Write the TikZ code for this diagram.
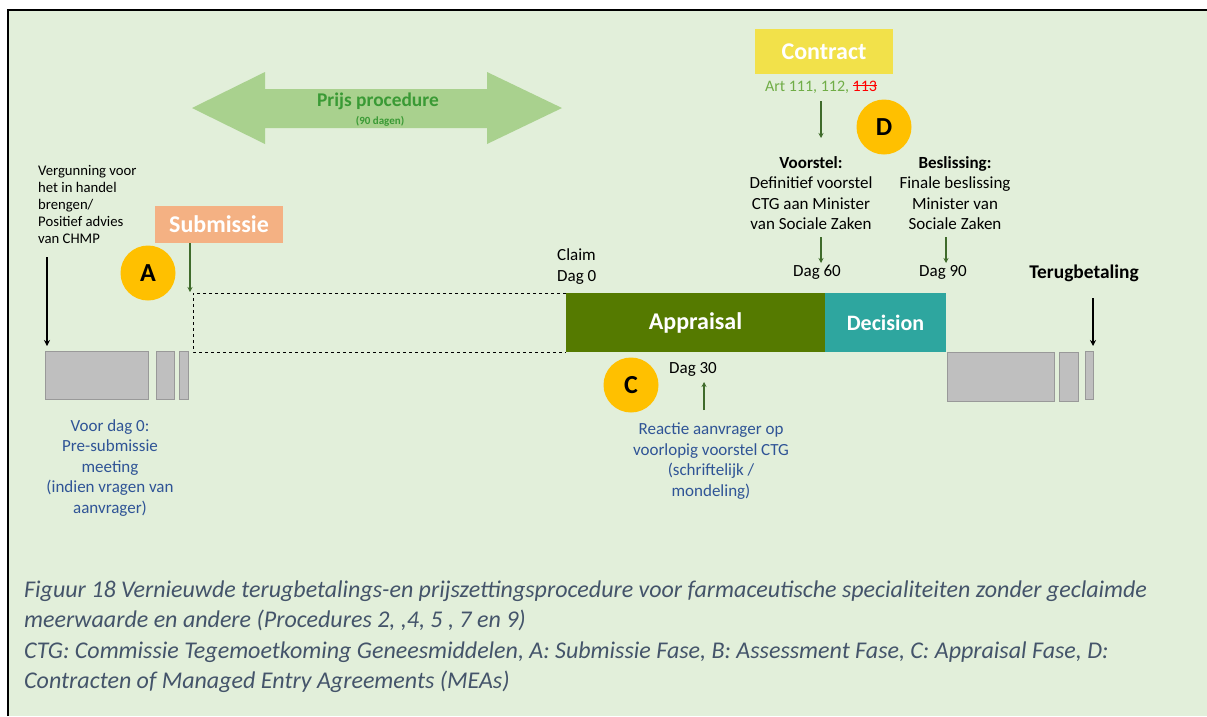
\documentclass[tikz,border=0pt]{standalone}
\usepackage{fontspec}
\setmainfont{Carlito}
\usetikzlibrary{arrows.meta,calc}
\definecolor{bg}{HTML}{E2EFDA}
\definecolor{pricegreen}{HTML}{A9D18E}
\definecolor{pricetext}{HTML}{3A9A35}
\definecolor{darkgreen}{HTML}{3F6B2B}
\definecolor{appraisal}{HTML}{557A00}
\definecolor{decision}{HTML}{2EA69F}
\definecolor{submissie}{HTML}{F4B183}
\definecolor{contract}{HTML}{F2E14A}
\definecolor{badge}{HTML}{FFC000}
\definecolor{bluetext}{HTML}{2F5496}
\definecolor{artgreen}{HTML}{70AD47}
\definecolor{caption}{HTML}{44546A}
\definecolor{boxgray}{HTML}{BFBFBF}
\definecolor{boxedge}{HTML}{999999}
% red struck-through text
\newcommand\redstrike[1]{\setbox0\hbox{#1}{\color{red}\rlap{\raisebox{0.3em}{\rule{\wd0}{0.9pt}}}\box0}}
\begin{document}
\begin{tikzpicture}[x=1pt,y=-1pt,
  body/.style={inner sep=0pt,font=\fontsize{17}{20.5}\selectfont,align=center},
  small/.style={inner sep=0pt,font=\fontsize{14.7}{17}\selectfont,align=left},
  bluenote/.style={body,text=bluetext},
  phase/.style={inner sep=0pt,text=white,font=\fontsize{24}{26}\selectfont\bfseries},
  badgecircle/.style={circle,fill=badge,minimum size=55pt,inner sep=0pt,font=\fontsize{26}{28}\selectfont\bfseries},
  grayblock/.style={fill=boxgray,draw=boxedge,line width=0.8pt},
  greenarrow/.style={draw=darkgreen,line width=1.6pt,-{Stealth[length=5pt,width=5pt]}},
  blackarrow/.style={draw=black,line width=1.8pt,-{Stealth[length=6pt,width=6pt]}}]
\useasboundingbox (0,0) rectangle (1207,716);
\fill[white] (0,0) rectangle (1207,716);
\fill[bg] (8,11) rectangle (1207,716);
\draw[line width=2pt] (8,716) -- (8,10) -- (1207,10);

% price procedure double arrow
\fill[pricegreen] (192,108) -- (265,72) -- (265,89) -- (487,89) -- (487,72) -- (562,108)
  -- (487,144) -- (487,128) -- (265,128) -- (265,144) -- cycle;
\node[inner sep=0pt,text=pricetext,font=\fontsize{19.4}{21}\selectfont\bfseries] (prijs) at (378,101) {Prijs procedure};
\node[inner sep=0pt,text=pricetext,font=\fontsize{11}{12}\selectfont\bfseries] (dagen) at (380,121) {(90 dagen)};

% marketing authorisation
\node[small,anchor=west] (vergunning) at (38,204) {Vergunning voor\\het in handel\\brengen/\\Positief advies\\van CHMP};
\coordinate (vergtop) at (47,257);
\coordinate (vergtip) at (47,346);
\draw[blackarrow] (vergtop) -- (vergtip);

% pre-submission blocks
\node[grayblock,minimum width=103pt,minimum height=48pt,inner sep=0pt] (g1) at (96.5,375) {};
\node[grayblock,minimum width=18pt,minimum height=48pt,inner sep=0pt] (g2) at (165,375) {};
\node[grayblock,minimum width=9pt,minimum height=48pt,inner sep=0pt] (g3) at (183.5,375) {};
\node[bluenote] (voordag) at (110,468) {Voor dag 0:\\Pre-submissie\\meeting\\(indien vragen van\\aanvrager)};

% submission
\node[fill=submissie,minimum width=128pt,minimum height=37pt,inner sep=0pt,phase] (subm) at (219,224.5) {Submissie};
\node[badgecircle] (A) at (148,273) {A};
\coordinate (subtop) at (190,243);
\coordinate (subtip) at (190,292);
\draw[greenarrow] (subtop) -- (subtip);

% waiting period up to claim
\draw[dashed,line width=0.9pt] (566,293) -- (193,293) -- (193,352) -- (566,352);
\node[body,align=left,anchor=west] (claim) at (557,266.5) {Claim\\Dag 0};

% appraisal and decision
\node[fill=appraisal,minimum width=259pt,minimum height=59pt,phase] (appr) at (695.5,322.5) {Appraisal};
\node[fill=decision,minimum width=121pt,minimum height=59pt,phase,font=\fontsize{22}{24}\selectfont\bfseries] (dec) at (885.5,322.5) {Decision};

% day 30 reaction
\node[badgecircle] (C) at (631,385) {C};
\node[body] (dag30) at (693,369) {Dag 30};
\coordinate (reacttip) at (704,382);
\coordinate (reactfoot) at (704,410);
\draw[greenarrow] (reactfoot) -- (reacttip);
\node[bluenote] (reactie) at (711,461) {Reactie aanvrager op\\voorlopig voorstel CTG\\(schriftelijk /\\mondeling)};

% contract
\node[fill=contract,minimum width=138pt,minimum height=45pt,phase] (contract) at (824,51.5) {Contract};
\node[inner sep=0pt,font=\fontsize{16}{18}\selectfont,text=artgreen] (art) at (821,87)
  {Art 111, 112, \redstrike{113}};
\node[badgecircle] (D) at (884,127) {D};

\node[body] (voorstel) at (811,193) {\textbf{Voorstel:}\\Definitief voorstel\\CTG aan Minister\\van Sociale Zaken};
\node[body] (beslissing) at (955,193) {\textbf{Beslissing:}\\Finale beslissing\\Minister van\\Sociale Zaken};
\coordinate (arttail) at (821,101);
\coordinate (voorsteltip) at (821,138);
\draw[greenarrow] (arttail) -- (voorsteltip);
\node[body] (dag60) at (817,272) {Dag 60};
\node[body] (dag90) at (943,272) {Dag 90};
\coordinate (v60tail) at (821,237);
\coordinate (v60tip) at (821,263);
\coordinate (b90tail) at (946,237);
\coordinate (b90tip) at (946,263);
\draw[greenarrow] (v60tail) -- (v60tip);
\draw[greenarrow] (b90tail) -- (b90tip);

% reimbursement
\node[grayblock,minimum width=107pt,minimum height=49pt,inner sep=0pt] (r1) at (1000.5,377) {};
\node[grayblock,minimum width=19pt,minimum height=49pt,inner sep=0pt] (r2) at (1068.5,376.5) {};
\node[grayblock,minimum width=8pt,minimum height=48pt,inner sep=0pt] (r3) at (1089,375) {};
\node[inner sep=0pt,font=\fontsize{19.4}{21}\selectfont\bfseries] (terug) at (1084,273) {Terugbetaling};
\coordinate (terugtop) at (1093,298);
\coordinate (terugtip) at (1093,346);
\draw[blackarrow] (terugtop) -- (terugtip);

% caption
\node[inner sep=0pt,anchor=west,align=left,text=caption,
  font=\fontsize{24}{30.5}\selectfont\itshape] (cap) at (24,636.5)
  {Figuur 18 Vernieuwde terugbetalings-en prijszettingsprocedure voor farmaceutische specialiteiten zonder geclaimde\\
   meerwaarde en andere (Procedures 2, ,4, 5 , 7 en 9)\\
   CTG: Commissie Tegemoetkoming Geneesmiddelen, A: Submissie Fase, B: Assessment Fase, C: Appraisal Fase, D:\\
   Contracten of Managed Entry Agreements (MEAs)};
\end{tikzpicture}
\end{document}
